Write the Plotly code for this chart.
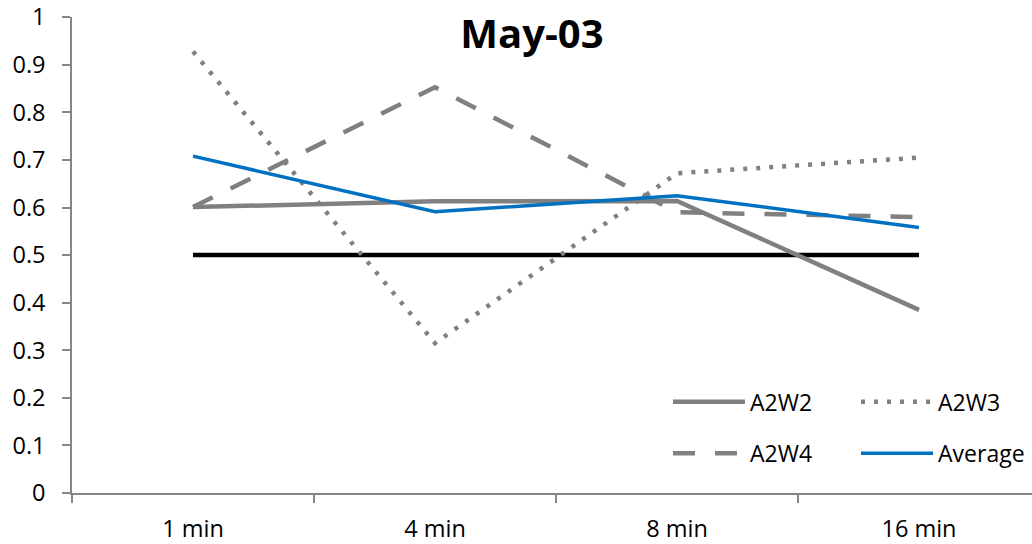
import plotly.graph_objects as go

categories = ["1 min", "4 min", "8 min", "16 min"]
a2w2 = [0.601, 0.613, 0.614, 0.385]
a2w3 = [0.928, 0.315, 0.672, 0.705]
a2w4 = [0.601, 0.853, 0.590, 0.580]
average = [0.708, 0.591, 0.625, 0.558]
threshold = [0.5, 0.5, 0.5, 0.5]
y_ticks = [0, 0.1, 0.2, 0.3, 0.4, 0.5, 0.6, 0.7, 0.8, 0.9, 1]
y_tick_labels = ["0", "0.1", "0.2", "0.3", "0.4", "0.5", "0.6", "0.7", "0.8", "0.9", "1"]

GRAY = "#808080"
BLUE = "#0070C0"
AXIS = "#868686"
FONT = "Open Sans"
FS = 23.5

fig = go.Figure()
fig.add_trace(go.Scatter(x=categories, y=threshold, mode="lines", name="0.5",
                         line=dict(color="black", width=4.5), showlegend=False))
fig.add_trace(go.Scatter(x=categories, y=a2w2, mode="lines", name="A2W2", legend="legend",
                         line=dict(color=GRAY, width=4.5)))
fig.add_trace(go.Scatter(x=categories, y=a2w3, mode="lines", name="A2W3", legend="legend2",
                         line=dict(color=GRAY, width=4.5, dash="4px,9px")))
fig.add_trace(go.Scatter(x=categories, y=a2w4, mode="lines", name="A2W4", legend="legend3",
                         line=dict(color=GRAY, width=4.5, dash="22px,20px")))
fig.add_trace(go.Scatter(x=categories, y=average, mode="lines", name="Average", legend="legend4",
                         line=dict(color=BLUE, width=3.5)))

def leg(x, y):
    return dict(x=x, y=y, xanchor="left", yanchor="middle", itemwidth=72,
                bgcolor="rgba(0,0,0,0)", borderwidth=0,
                font=dict(family=FONT, size=23, color="black"))

fig.update_layout(
    width=1032, height=544,
    margin=dict(l=72, r=0, t=15, b=49),
    paper_bgcolor="white", plot_bgcolor="white",
    font=dict(family=FONT, size=FS, color="black"),
    title=dict(text="<b>May-03</b>", x=0.5155, xanchor="center", y=0.9375, yanchor="middle",
               font=dict(family=FONT, size=40, color="black")),
    showlegend=True,
    legend=leg(0.6208, 0.1917),
    legend2=leg(0.8167, 0.1917),
    legend3=leg(0.6208, 0.0833),
    legend4=leg(0.8167, 0.0833),
    xaxis=dict(type="category", range=[-0.5, 3.467], showgrid=False, zeroline=False,
               showline=True, linecolor=AXIS, linewidth=1.5,
               ticks="outside", ticklen=8, tickcolor=AXIS, tickwidth=1.5,
               tickson="boundaries", ticklabelstandoff=14,
               tickfont=dict(family=FONT, size=FS, color="black")),
    yaxis=dict(range=[0, 1.0005], tickvals=y_ticks, ticktext=y_tick_labels, showgrid=False,
               zeroline=False, showline=True, linecolor=AXIS, linewidth=1.5,
               ticks="outside", ticklen=8, tickcolor=AXIS, tickwidth=1.5,
               ticklabelstandoff=12, ticklabeloverflow="allow",
               tickfont=dict(family=FONT, size=FS, color="black")),
)

fig.write_html("out.html")
